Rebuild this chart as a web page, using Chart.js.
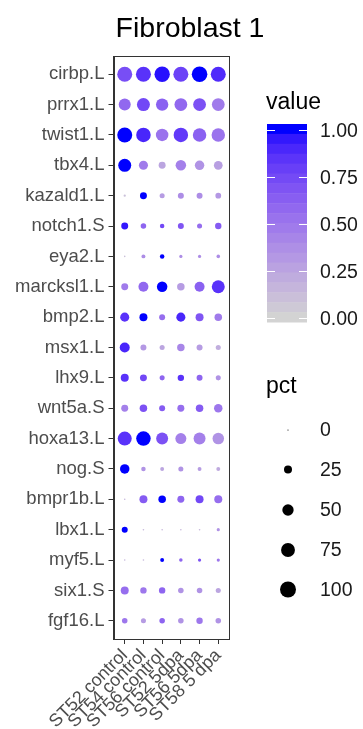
<!DOCTYPE html>
<html>
<head>
<meta charset="utf-8">
<style>
  html, body { margin: 0; padding: 0; background: #fff; }
  #wrap { position: relative; width: 363px; height: 729px; }
</style>
</head>
<body>
<div id="wrap"><canvas id="dotPlot" width="363" height="729"></canvas></div>

<script src="https://cdn.jsdelivr.net/npm/chart.js"></script>
<script>
// genes (top to bottom) and samples (left to right)
const genes = ['cirbp.L', 'prrx1.L', 'twist1.L', 'tbx4.L', 'kazald1.L', 'notch1.S', 'eya2.L',
  'marcksl1.L', 'bmp2.L', 'msx1.L', 'lhx9.L', 'wnt5a.S', 'hoxa13.L', 'nog.S', 'bmpr1b.L',
  'lbx1.L', 'myf5.L', 'six1.S', 'fgf16.L'];
const samples = ['ST52 control', 'ST54 control', 'ST56 control', 'ST52 5dpa', 'ST56 5dpa', 'ST58 5 dpa'];

// scaled average expression (colour)
const avgExp = [
  [0.72, 0.85, 0.97, 0.78, 1.00, 0.88],
  [0.58, 0.75, 0.62, 0.58, 0.70, 0.48],
  [1.00, 0.90, 0.52, 0.82, 0.62, 0.52],
  [1.00, 0.48, 0.25, 0.45, 0.35, 0.28],
  [0.10, 1.00, 0.30, 0.38, 0.38, 0.32],
  [0.95, 0.60, 0.75, 0.68, 0.55, 0.65],
  [0.10, 0.38, 1.00, 0.38, 0.38, 0.38],
  [0.48, 0.58, 1.00, 0.30, 0.62, 0.85],
  [0.85, 1.00, 0.55, 0.90, 0.68, 0.48],
  [0.90, 0.32, 0.25, 0.42, 0.30, 0.20],
  [0.85, 0.75, 0.60, 0.85, 0.60, 0.35],
  [0.45, 0.70, 0.65, 0.55, 0.65, 0.50],
  [0.85, 1.00, 0.70, 0.45, 0.45, 0.35],
  [1.00, 0.35, 0.25, 0.35, 0.30, 0.22],
  [0.15, 0.65, 1.00, 0.60, 0.75, 0.55],
  [1.00, 0.15, 0.15, 0.15, 0.15, 0.35],
  [0.15, 0.15, 1.00, 0.60, 0.70, 0.50],
  [0.55, 0.50, 0.60, 0.35, 0.35, 0.25],
  [0.50, 0.30, 0.60, 0.35, 0.50, 0.35]
];

// percent of cells expressing (size)
const pctExp = [
  [88, 88, 92, 88, 95, 88],
  [56, 66, 60, 64, 64, 64],
  [88, 82, 61, 82, 71, 71],
  [66, 32, 19, 43, 35, 30],
  [2, 19, 10, 14, 14, 13],
  [19, 12, 8, 14, 10, 16],
  [1, 6, 8, 4, 4, 5],
  [19, 39, 43, 22, 39, 66],
  [32, 25, 14, 32, 25, 22],
  [39, 14, 10, 22, 14, 10],
  [25, 19, 10, 16, 14, 10],
  [19, 22, 14, 19, 22, 28],
  [77, 82, 56, 47, 56, 52],
  [35, 8, 6, 10, 6, 6],
  [1, 25, 22, 19, 25, 25],
  [14, 1, 1, 1, 1, 4],
  [1, 1, 6, 5, 4, 4],
  [25, 16, 16, 12, 12, 10],
  [12, 10, 12, 12, 16, 12]
];

const valueBreaks = [0, 0.25, 0.5, 0.75, 1];
const pctBreaks = [0, 25, 50, 75, 100];

const FONT = "'Liberation Sans', Arial, Helvetica, sans-serif";
const LOW = [211, 211, 211];   // lightgrey
const HIGH = [0, 0, 255];      // blue
const MAX_R = 8;

// --- colour ramp in Lab, like ggplot's gradient ---
function toLin(c) { c /= 255; return c <= 0.04045 ? c / 12.92 : Math.pow((c + 0.055) / 1.055, 2.4); }
function fromLin(c) {
  const v = c <= 0.0031308 ? 12.92 * c : 1.055 * Math.pow(c, 1 / 2.4) - 0.055;
  return Math.round(Math.max(0, Math.min(1, v)) * 255);
}
function rgbToLab(rgb) {
  const R = toLin(rgb[0]), G = toLin(rgb[1]), B = toLin(rgb[2]);
  const x = (0.4124 * R + 0.3576 * G + 0.1805 * B) / 0.95047;
  const y = (0.2126 * R + 0.7152 * G + 0.0722 * B);
  const z = (0.0193 * R + 0.1192 * G + 0.9505 * B) / 1.08883;
  const f = t => t > 0.008856 ? Math.cbrt(t) : 7.787 * t + 16 / 116;
  const fx = f(x), fy = f(y), fz = f(z);
  return [116 * fy - 16, 500 * (fx - fy), 200 * (fy - fz)];
}
function labToRgb(lab) {
  const fy = (lab[0] + 16) / 116, fx = fy + lab[1] / 500, fz = fy - lab[2] / 200;
  const inv = t => t * t * t > 0.008856 ? t * t * t : (t - 16 / 116) / 7.787;
  const x = inv(fx) * 0.95047, y = inv(fy), z = inv(fz) * 1.08883;
  const R = 3.2406 * x - 1.5372 * y - 0.4986 * z;
  const G = -0.9689 * x + 1.8758 * y + 0.0415 * z;
  const B = 0.0557 * x - 0.2040 * y + 1.0570 * z;
  return [fromLin(R), fromLin(G), fromLin(B)];
}
const labLow = rgbToLab(LOW), labHigh = rgbToLab(HIGH);
function colorOf(v) {
  const t = Math.max(0, Math.min(1, v));
  const lab = labLow.map((c, i) => c + (labHigh[i] - c) * t);
  const rgb = labToRgb(lab);
  return 'rgb(' + rgb.join(',') + ')';
}
function radiusOf(pct) {
  return Math.max(0.6, MAX_R * Math.sqrt(pct / 100));
}

const points = [];
genes.forEach((g, i) => {
  samples.forEach((s, j) => {
    points.push({ x: j, y: i, value: avgExp[i][j], pct: pctExp[i][j] });
  });
});

// title, panel box and the two legends
const decorations = {
  id: 'decorations',
  beforeDatasetsDraw(chart) {
    const { ctx, chartArea: a } = chart;
    ctx.save();
    ctx.strokeStyle = '#333';
    ctx.lineWidth = 1;
    ctx.strokeRect(Math.round(a.left) + 0.5, Math.round(a.top) + 0.5,
      Math.round(a.right - a.left) - 1, Math.round(a.bottom - a.top));
    ctx.restore();
  },
  afterDraw(chart) {
    const ctx = chart.ctx;
    ctx.save();
    ctx.fillStyle = '#000';
    ctx.textBaseline = 'alphabetic';
    ctx.textAlign = 'center';
    ctx.font = '28.5px ' + FONT;
    ctx.fillText('Fibroblast 1', 190, 37);

    // colour bar
    ctx.textAlign = 'left';
    ctx.font = '23px ' + FONT;
    ctx.fillText('value', 266, 109);
    const barL = 267, barW = 40, barTop = 124, barBot = 322;
    const yTop = 129.5, yBot = 317.5;
    const nbin = 20;
    const binH = (barBot - barTop) / nbin;
    for (let k = 0; k < nbin; k++) {
      const v = 1 - (k + 0.5) / nbin;
      ctx.fillStyle = colorOf((v * (barBot - barTop) - (barBot - yBot)) / (yBot - yTop));
      ctx.fillRect(barL, barTop + k * binH, barW, binH + 0.5);
    }
    ctx.strokeStyle = '#fff';
    ctx.lineWidth = 1;
    ctx.font = '19.5px ' + FONT;
    ctx.textBaseline = 'middle';
    valueBreaks.forEach(b => {
      const y = Math.round(yBot - b * (yBot - yTop)) + 0.5;
      ctx.beginPath();
      ctx.moveTo(barL, y); ctx.lineTo(barL + 8, y);
      ctx.moveTo(barL + barW - 8, y); ctx.lineTo(barL + barW, y);
      ctx.stroke();
      ctx.fillStyle = '#1a1a1a';
      ctx.fillText(b.toFixed(2), 320, y + 1);
    });

    // size legend
    ctx.fillStyle = '#000';
    ctx.textBaseline = 'alphabetic';
    ctx.font = '23px ' + FONT;
    ctx.fillText('pct', 266, 393);
    ctx.font = '19.5px ' + FONT;
    ctx.textBaseline = 'middle';
    const keyY = [430, 469.5, 510, 550, 589.5];
    pctBreaks.forEach((b, k) => {
      ctx.fillStyle = '#000';
      ctx.beginPath();
      ctx.arc(288, keyY[k], radiusOf(b), 0, Math.PI * 2);
      ctx.fill();
      ctx.fillStyle = '#1a1a1a';
      ctx.fillText(String(b), 320, keyY[k] + 1);
    });
    ctx.restore();
  }
};

const ctx = document.getElementById('dotPlot').getContext('2d');
new Chart(ctx, {
  type: 'scatter',
  data: {
    datasets: [{
      data: points,
      pointRadius: c => c.raw ? radiusOf(c.raw.pct) : 3,
      pointHoverRadius: c => c.raw ? radiusOf(c.raw.pct) : 3,
      pointBackgroundColor: c => c.raw ? colorOf(c.raw.value) : '#000',
      pointBorderWidth: 0,
      pointHoverBorderWidth: 0
    }]
  },
  options: {
    responsive: false,
    animation: false,
    events: [],
    layout: { padding: { left: 0, right: 133.5, top: 56, bottom: 0 } },
    plugins: { legend: { display: false }, tooltip: { enabled: false }, title: { display: false } },
    scales: {
      x: {
        type: 'linear',
        min: -0.6,
        max: samples.length - 0.4,
        afterBuildTicks: s => { s.ticks = samples.map((n, j) => ({ value: j })); },
        afterFit: s => { s.height = 90; },
        ticks: {
          callback: v => samples[v],
          autoSkip: false,
          maxRotation: 45,
          minRotation: 45,
          padding: 1,
          color: '#4d4d4d',
          font: { size: 18, family: FONT }
        },
        grid: { drawOnChartArea: false, drawTicks: true, tickLength: 5, tickColor: '#333', tickWidth: 1 },
        border: { display: true, color: '#333', width: 1 }
      },
      y: {
        type: 'linear',
        min: -0.6,
        max: genes.length - 0.4,
        reverse: true,
        afterBuildTicks: s => { s.ticks = genes.map((g, i) => ({ value: i })); },
        afterFit: s => { s.width = 113.5; },
        ticks: {
          callback: v => genes[v],
          autoSkip: false,
          padding: 4,
          color: '#4d4d4d',
          font: { size: 18.5, family: FONT }
        },
        grid: { drawOnChartArea: false, drawTicks: true, tickLength: 5, tickColor: '#333', tickWidth: 1 },
        border: { display: true, color: '#333', width: 1 }
      }
    }
  },
  plugins: [decorations]
});
</script>
</body>
</html>
